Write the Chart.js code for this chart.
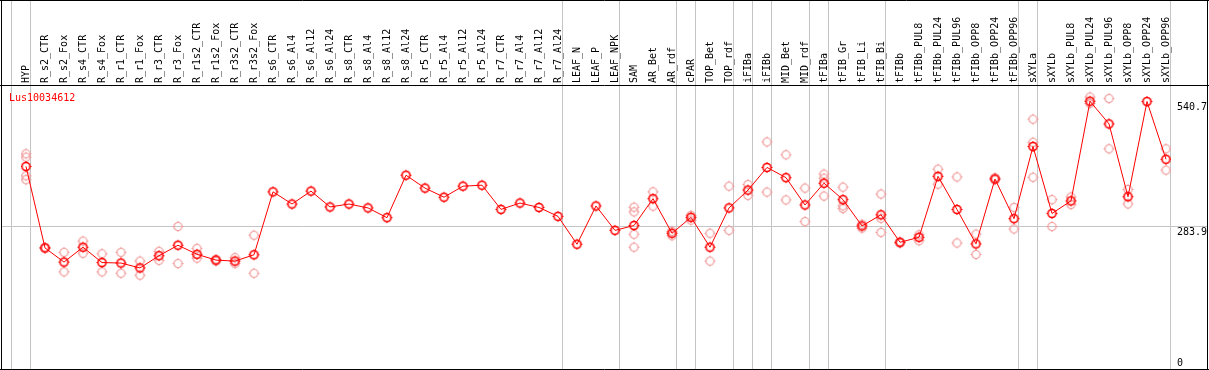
<!DOCTYPE html>
<html>
<head>
<meta charset="utf-8">
<script src="https://cdn.jsdelivr.net/npm/chart.js@4.4.1/dist/chart.umd.min.js"></script>
<style>
  html, body { margin: 0; padding: 0; background: #ffffff; }
  #wrap { width: 1209px; height: 370px; position: relative; }
</style>
</head>
<body>
<div id="wrap"><canvas id="c" width="1209" height="370"></canvas></div>
<script>
const geneName = 'Lus10034612';

const categories = [
  'HYP','R_s2_CTR','R_s2_Fox','R_s4_CTR','R_s4_Fox','R_r1_CTR','R_r1_Fox','R_r3_CTR','R_r3_Fox',
  'R_r1s2_CTR','R_r1s2_Fox','R_r3s2_CTR','R_r3s2_Fox',
  'R_s6_CTR','R_s6_Al4','R_s6_Al12','R_s6_Al24','R_s8_CTR','R_s8_Al4','R_s8_Al12','R_s8_Al24',
  'R_r5_CTR','R_r5_Al4','R_r5_Al12','R_r5_Al24','R_r7_CTR','R_r7_Al4','R_r7_Al12','R_r7_Al24',
  'LEAF_N','LEAF_P','LEAF_NPK',
  'SAM','AR_Bet','AR_rdf','cPAR','TOP_Bet','TOP_rdf','iFIBa','iFIBb','MID_Bet','MID_rdf',
  'tFIBa','tFIB_Gr','tFIB_Li','tFIB_Bi',
  'tFIBb','tFIBb_PUL8','tFIBb_PUL24','tFIBb_PUL96','tFIBb_OPP8','tFIBb_OPP24','tFIBb_OPP96',
  'sXYLa','sXYLb','sXYLb_PUL8','sXYLb_PUL24','sXYLb_PUL96','sXYLb_OPP8','sXYLb_OPP24','sXYLb_OPP96'
];

const meanValues = [
  407, 240, 211, 241.5, 210, 209, 199, 224, 245.5, 227, 215, 213, 226,
  355, 330, 356.5, 324, 330, 322, 302, 389, 362.6, 344, 366.6, 368.6, 319, 332, 323, 304.7,
  247.6, 326, 276,
  286, 341, 270, 302.7, 241.5, 322, 358.5, 405, 384, 328, 372.7, 339, 285, 308,
  251.6, 261.7, 386.8, 318.8, 248.2, 381.3, 300,
  448, 310.7, 336.4, 540.7, 494.3, 345, 540.1, 421.7
];

const N = null;
const rep1 = [433, 241, 231, 254, 228, 231, 213, 233, 284, 239, 216.5, 220, 266,
  N, N, N, N, N, N, N, N, N, N, N, N, N, N, N, N,
  N, N, N,
  323.4, 355, 274, 306.7, 270, 366.6, 370, 457.4, 431, 362.6, 391.4, 364.6, 288.5, 350.5,
  252, 267, 401.5, 385.4, 268.4, 384, 322.8,
  503.8, 339, 344.4, 549.4, 546.2, 359.8, N, 443.3];
const rep2 = [426, 239, 191, 229, 191, 188, 184, 214.5, 208, 219, 213, 208, 188,
  N, N, N, N, N, N, N, N, N, N, N, N, N, N, N, N,
  N, N, N,
  314, 325.5, 265, 297, 213, 276, 347.7, 354.5, 338.4, 294, 382.8, 326.3, 280.5, 300.6,
  249.6, 254.8, 370.6, 250.2, 226.6, 380, 279,
  456.6, 283.9, 328.9, 536.1, 443.3, 330.3, N, 399.5];
const rep3 = [388, N, N, N, N, N, N, N, N, N, N, N, N,
  N, N, N, N, N, N, N, N, N, N, N, N, N, N, N, N,
  N, N, N,
  268, N, N, N, N, N, N, N, N, N, 346.4, 320.8, N, 271.8,
  N, N, N, N, N, N, N,
  384.8, N, N, N, N, N, N, N];
const rep4 = [380, N, N, N, N, N, N, N, N, N, N, N, N,
  N, N, N, N, N, N, N, N, N, N, N, N, N, N, N, N,
  N, N, N,
  241.5, N, N, N, N, N, N, N, N, N, N, N, N, N,
  N, N, N, N, N, N, N,
  N, N, N, N, N, N, N, N];

const axisTickValues = [540.7, 283.9, 0];
const referenceValue = 283.9;
const groupBreaksAfter = [-1, 0, 28, 31, 34, 35, 37, 38, 39, 41, 42, 45, 52, 53, 60];

const MONO = '"DejaVu Sans Mono", "Liberation Mono", monospace';

function makeMarker(color, lw) {
  const cv = document.createElement('canvas');
  cv.width = 13; cv.height = 13;
  const g = cv.getContext('2d');
  g.strokeStyle = color; g.fillStyle = color; g.lineWidth = lw;
  g.beginPath(); g.arc(6.5, 6.5, 4, 0, Math.PI * 2); g.stroke();
  g.fillRect(6, 1, 1, 1);
  g.fillRect(6, 11, 1, 1);
  g.fillRect(1, 6, 1, 1);
  g.fillRect(11, 6, 1, 1);
  return cv;
}
const meanMarker = makeMarker('#ff0000', 1.6);
const repMarker = makeMarker('#f09a9a', 1.2);

function repDataset(arr) {
  return {
    data: arr, showLine: false, pointStyle: repMarker, pointRadius: 4,
    borderColor: '#f09a9a', backgroundColor: 'transparent', spanGaps: false
  };
}

const decor = {
  id: 'decor',
  beforeDraw(chart) {
    const { ctx, scales: { x, y } } = chart;
    ctx.save();
    ctx.fillStyle = '#ffffff';
    ctx.fillRect(0, 0, chart.width, chart.height);
    ctx.strokeStyle = '#c4c4c4';
    ctx.lineWidth = 1;
    const yy = Math.floor(y.getPixelForValue(referenceValue)) + 0.5;
    ctx.beginPath(); ctx.moveTo(2, yy); ctx.lineTo(1207, yy); ctx.stroke();
    groupBreaksAfter.forEach(i => {
      const xx = Math.floor(x.getPixelForValue(i + 0.25)) + 0.5;
      ctx.beginPath(); ctx.moveTo(xx, 0); ctx.lineTo(xx, 370); ctx.stroke();
    });
    ctx.restore();
  },
  afterDraw(chart) {
    const { ctx, scales: { y } } = chart;
    ctx.save();
    ctx.strokeStyle = '#000000';
    ctx.lineWidth = 1;
    ctx.beginPath();
    ctx.moveTo(1.5, 0); ctx.lineTo(1.5, 370);
    ctx.moveTo(1207.5, 0); ctx.lineTo(1207.5, 370);
    ctx.moveTo(0, 0.5); ctx.lineTo(1209, 0.5);
    ctx.moveTo(0, 85.5); ctx.lineTo(1209, 85.5);
    ctx.moveTo(0, 369.5); ctx.lineTo(1209, 369.5);
    ctx.stroke();

    ctx.font = '10px ' + MONO;
    ctx.textBaseline = 'alphabetic';
    ctx.textAlign = 'left';
    ctx.fillStyle = '#ff0000';
    ctx.fillText(geneName, 9, 101);

    ctx.fillStyle = '#000000';
    axisTickValues.forEach(v => {
      const py = y.getPixelForValue(v);
      let base = py + 8.8;
      if (base > 366) base = 366;
      ctx.fillText(String(v), 1177, base);
    });
    ctx.restore();
  }
};

new Chart(document.getElementById('c'), {
  type: 'line',
  data: {
    labels: categories,
    datasets: [
      {
        data: meanValues, borderColor: '#ff0000', borderWidth: 1, tension: 0,
        pointStyle: meanMarker, pointRadius: 4, backgroundColor: 'transparent'
      },
      repDataset(rep1), repDataset(rep2), repDataset(rep3), repDataset(rep4)
    ]
  },
  options: {
    responsive: false,
    devicePixelRatio: 1,
    animation: false,
    events: [],
    layout: { padding: { left: 26, right: 43, top: 0, bottom: 1 } },
    plugins: { legend: { display: false }, tooltip: { enabled: false }, title: { display: false } },
    scales: {
      x: {
        type: 'category',
        position: 'top',
        offset: false,
        grid: { display: false, drawTicks: false },
        border: { display: false },
        ticks: {
          autoSkip: false, maxRotation: 90, minRotation: 90, padding: 2, labelOffset: 12,
          color: '#000000', font: { family: MONO, size: 10 }
        },
        afterFit(scale) { scale.height = 85; }
      },
      y: {
        type: 'linear', display: false, min: 0, max: 574
      }
    }
  },
  plugins: [decor]
});
</script>
</body>
</html>
